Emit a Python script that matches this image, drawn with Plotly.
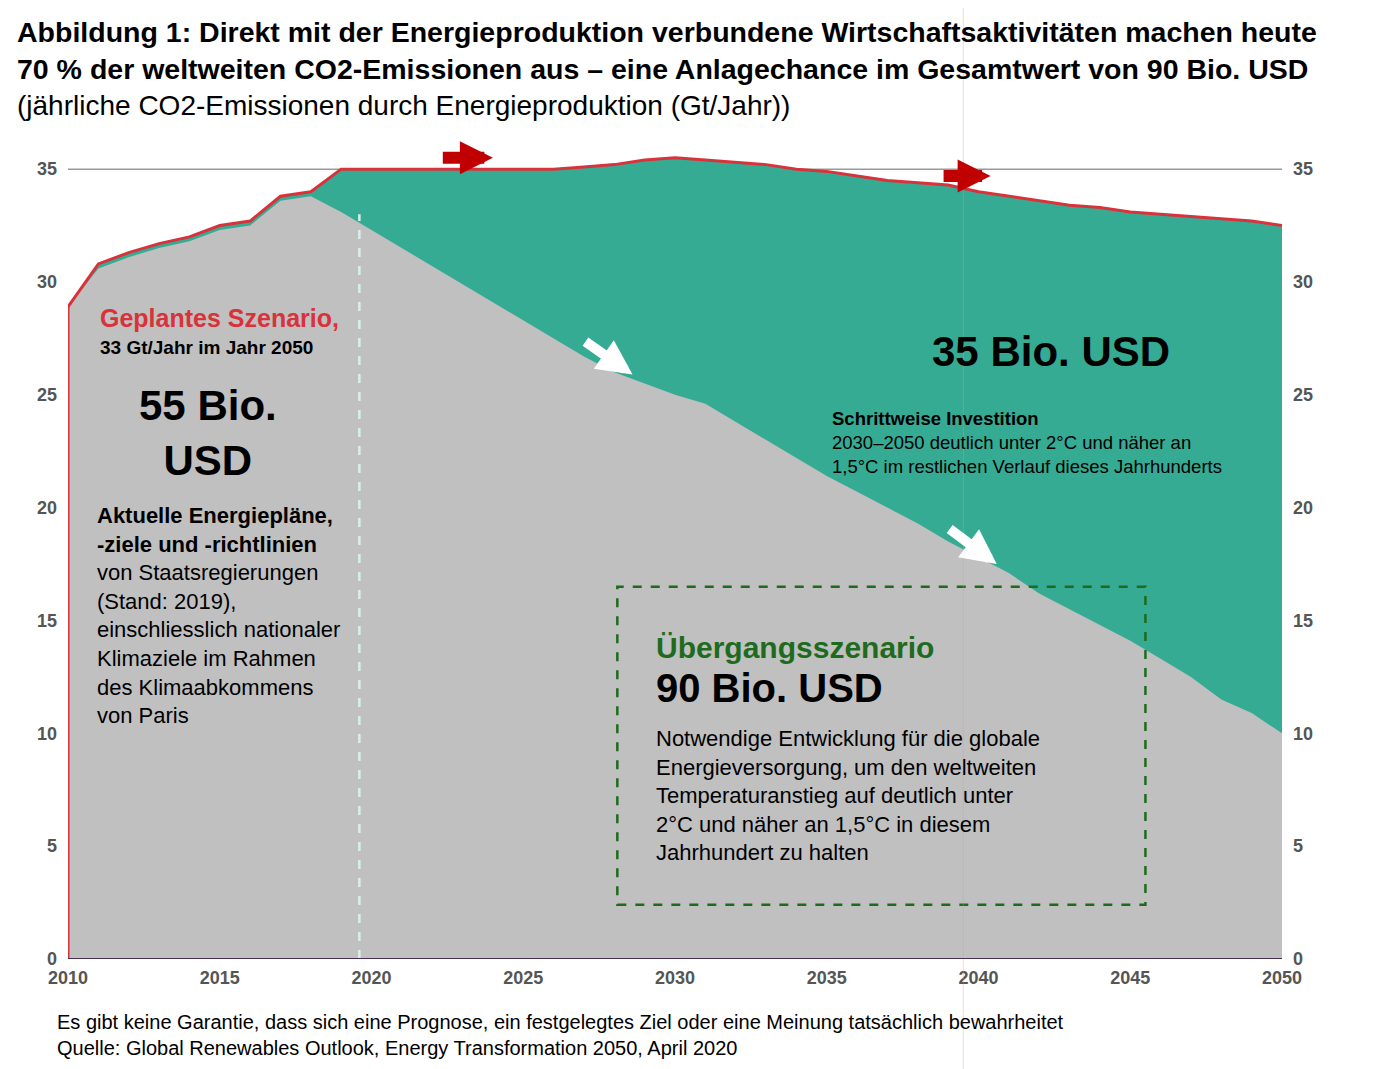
import plotly.graph_objects as go

years = list(range(2010, 2051))
geplant = [28.9, 30.8, 31.3, 31.7, 32.0, 32.5, 32.7, 33.8, 34.0, 35.0,
           35.0, 35.0, 35.0, 35.0, 35.0, 35.0, 35.0, 35.1, 35.2, 35.4,
           35.5, 35.4, 35.3, 35.2, 35.0, 34.9, 34.7, 34.5, 34.4, 34.3,
           34.0, 33.8, 33.6, 33.4, 33.3, 33.1, 33.0, 32.9, 32.8, 32.7, 32.5]
uebergang = [28.9, 30.6, 31.1, 31.5, 31.8, 32.3, 32.5, 33.6, 33.8, 33.1,
             32.3, 31.5, 30.7, 29.9, 29.1, 28.3, 27.5, 26.7, 26.0, 25.5,
             25.0, 24.6, 23.8, 23.0, 22.2, 21.4, 20.7, 20.0, 19.3, 18.5,
             17.8, 17.1, 16.2, 15.5, 14.8, 14.1, 13.3, 12.5, 11.5, 10.9, 10.0]
y_ticks = [0, 5, 10, 15, 20, 25, 30, 35]
x_ticks = [2010, 2015, 2020, 2025, 2030, 2035, 2040, 2045, 2050]

RED = "#d8323a"
GREEN = "#36ab94"
GRAY = "#c0c0c0"
DKGREEN = "#1e6b1e"
FONT = "Liberation Sans, Arial, sans-serif"

fig = go.Figure()
fig.add_trace(go.Scatter(x=years, y=geplant, fill="tozeroy", fillcolor=GREEN,
                         line=dict(width=0), mode="lines", showlegend=False))
fig.add_trace(go.Scatter(x=years, y=uebergang, fill="tozeroy", fillcolor=GRAY,
                         line=dict(width=0), mode="lines", showlegend=False))
fig.add_trace(go.Scatter(x=years, y=geplant, line=dict(color=RED, width=3),
                         mode="lines", showlegend=False))
fig.add_trace(go.Scatter(x=[2010, 2050], y=[0, 0], yaxis="y2", mode="lines",
                         line=dict(width=0), showlegend=False, hoverinfo="skip"))

shapes = [
    dict(type="line", xref="x", yref="y", x0=2010, x1=2050, y0=35, y1=35,
         line=dict(color="#999", width=1.5), layer="below"),
    dict(type="line", xref="x", yref="y", x0=2010, x1=2010, y0=0, y1=geplant[0],
         line=dict(color=RED, width=3)),
    dict(type="line", xref="x", yref="y", x0=2019.6, x1=2019.6, y0=0, y1=33,
         line=dict(color="#d8f0ea", width=2.5, dash="dash")),
    dict(type="rect", xref="x", yref="y", x0=2028.1, x1=2045.5, y0=2.4, y1=16.5,
         line=dict(color=DKGREEN, width=2.5, dash="dash")),
    dict(type="line", xref="x", yref="paper", x0=2039.5, x1=2039.5, y0=-0.15, y1=1.3,
         line=dict(color="rgba(230,150,150,0.35)", width=1)),
    dict(type="line", xref="x", yref="y", x0=2010, x1=2050, y0=0, y1=0,
         line=dict(color="#4a3050", width=2)),
]

ann = []
def txt(x, y, text, size, color="black", bold=False, xanchor="left", yanchor="top", align="left"):
    if bold:
        text = "<b>" + text + "</b>"
    ann.append(dict(x=x, y=y, xref="x", yref="y", text=text, showarrow=False,
                    xanchor=xanchor, yanchor=yanchor, align=align,
                    font=dict(family=FONT, size=size, color=color)))

txt(2011.0, 28.4, "Geplantes Szenario,", 25, RED, True, yanchor="middle")
txt(2011.0, 27.1, "33 Gt/Jahr im Jahr 2050", 19, bold=True, yanchor="middle")
txt(2014.6, 23.3, "55 Bio.<br>USD", 42, bold=True, xanchor="center", yanchor="middle", align="center")
ann.append(dict(x=2010.9, y=20.3, xref="x", yref="y", showarrow=False, xanchor="left",
                yanchor="top", align="left",
                text="<b>Aktuelle Energiepläne,<br>-ziele und -richtlinien</b><br>von Staatsregierungen<br>"
                     "(Stand: 2019),<br>einschliesslich nationaler<br>Klimaziele im Rahmen<br>"
                     "des Klimaabkommens<br>von Paris",
                font=dict(family=FONT, size=22, color="black")))
txt(2042.4, 26.9, "35 Bio. USD", 42, bold=True, xanchor="center", yanchor="middle")
ann.append(dict(x=2035.1, y=24.5, xref="x", yref="y", showarrow=False, xanchor="left",
                yanchor="top", align="left",
                text="<b>Schrittweise Investition</b><br>2030–2050 deutlich unter 2°C und näher an<br>"
                     "1,5°C im restlichen Verlauf dieses Jahrhunderts",
                font=dict(family=FONT, size=18.5, color="black")))
txt(2029.3, 13.8, "Übergangsszenario", 30, DKGREEN, True, yanchor="middle")
txt(2029.3, 12.0, "90 Bio. USD", 40, bold=True, yanchor="middle")
ann.append(dict(x=2029.3, y=10.4, xref="x", yref="y", showarrow=False, xanchor="left",
                yanchor="top", align="left",
                text="Notwendige Entwicklung für die globale<br>Energieversorgung, um den weltweiten<br>"
                     "Temperaturanstieg auf deutlich unter<br>2°C und näher an 1,5°C in diesem<br>Jahrhundert zu halten",
                font=dict(family=FONT, size=22, color="black")))

for x0, x1, y in [(2022.3, 2024.0, 35.5), (2038.8, 2040.4, 34.7)]:
    ann.append(dict(x=x1, y=y, ax=x0, ay=y, xref="x", yref="y", axref="x", ayref="y",
                    showarrow=True, arrowhead=2, arrowsize=0.55, arrowwidth=12,
                    arrowcolor="#c00000", text=""))
for x0, y0, x1, y1 in [(2027.0, 27.4, 2028.6, 25.9), (2039.0, 19.1, 2040.6, 17.5)]:
    ann.append(dict(x=x1, y=y1, ax=x0, ay=y0, xref="x", yref="y", axref="x", ayref="y",
                    showarrow=True, arrowhead=2, arrowsize=0.7, arrowwidth=10,
                    arrowcolor="white", text=""))

ann.append(dict(x=-0.044, y=1.0, xref="paper", yref="paper", yanchor="top", xanchor="left",
                showarrow=False, align="left", yshift=110,
                text="<b>Abbildung 1: Direkt mit der Energieproduktion verbundene Wirtschaftsaktivitäten machen heute<br>"
                     "70 % der weltweiten CO2-Emissionen aus – eine Anlagechance im Gesamtwert von 90 Bio. USD</b>",
                font=dict(family=FONT, size=28.5, color="black")))
ann.append(dict(x=-0.044, y=1.0, xref="paper", yref="paper", yanchor="top", xanchor="left",
                showarrow=False, align="left", yshift=36,
                text="(jährliche CO2-Emissionen durch Energieproduktion (Gt/Jahr))",
                font=dict(family="Liberation Sans Narrow, Arial Narrow, sans-serif", size=28, color="black")))
ann.append(dict(x=-0.011, y=0, xref="paper", yref="paper", yanchor="top", xanchor="left",
                showarrow=False, align="left", yshift=-50,
                text="Es gibt keine Garantie, dass sich eine Prognose, ein festgelegtes Ziel oder eine Meinung tatsächlich bewahrheitet<br>"
                     "Quelle: Global Renewables Outlook, Energy Transformation 2050, April 2020",
                font=dict(family=FONT, size=20, color="black")))

tickfont = dict(family=FONT, size=18, color="#555", weight="bold")
fig.update_layout(
    width=1390, height=1069,
    margin=dict(l=60, r=116, t=116, b=118),
    plot_bgcolor="white", paper_bgcolor="white",
    xaxis=dict(range=[2010, 2050], tickvals=x_ticks, showgrid=False, zeroline=False,
               ticks="", tickfont=tickfont, ticklabelstandoff=6),
    yaxis=dict(range=[0, 37], tickvals=y_ticks, showgrid=False, zeroline=False,
               tickfont=tickfont, ticklabelstandoff=10),
    yaxis2=dict(range=[0, 37], tickvals=y_ticks, overlaying="y", side="right",
                showgrid=False, zeroline=False, tickfont=tickfont, ticklabelstandoff=10),
    shapes=shapes, annotations=ann,
)

fig.write_html("out.html")
